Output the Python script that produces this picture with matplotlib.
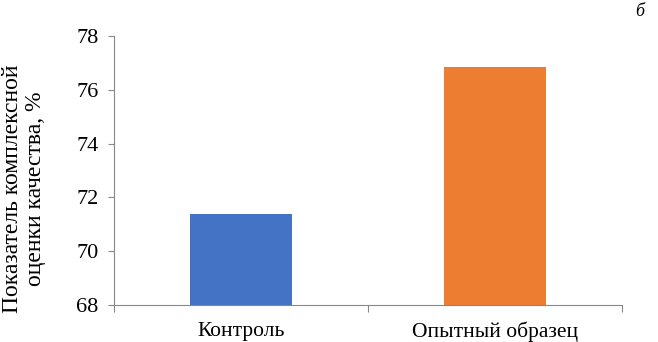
import matplotlib
matplotlib.use("Agg")
import matplotlib.pyplot as plt

categories = ["Контроль", "Опытный образец"]
values = [71.37, 76.83]
colors = ["#4472C4", "#ED7D31"]
yticks = [68, 70, 72, 74, 76, 78]

plt.rcParams['font.family'] = ['Liberation Serif', 'DejaVu Serif']

fig = plt.figure(figsize=(6.58, 3.42), dpi=100)
ax = fig.add_axes([0.1733, 0.108, 0.772, 0.787])

x = list(range(len(categories)))
ax.bar(x, [v - 68 for v in values], bottom=68, width=0.4, color=colors)

ax.set_xlim(-0.5, 1.5)
ax.set_ylim(68, 78)
ax.set_yticks(yticks)
ax.set_xticks(x)
ax.set_xticklabels(categories, fontsize=15.5)
ax.set_xticks([-0.5, 0.5, 1.5], minor=True)
ax.tick_params(axis='x', which='major', length=0, pad=12)
ax.tick_params(axis='x', which='minor', length=5, color='#888888', width=0.8)
ax.tick_params(axis='y', length=4.3, color='#888888', width=0.8, labelsize=16, pad=7)

for side in ['top', 'right']:
    ax.spines[side].set_visible(False)
for side in ['left', 'bottom']:
    ax.spines[side].set_color('#888888')
    ax.spines[side].set_linewidth(0.8)

fig.text(24 / 658, 0.447, "Показатель комплексной\nоценки качества, %", fontsize=17,
         rotation=90, ha='center', va='center', multialignment='center', linespacing=1.1)

fig.text(0.972, 0.99, "б", fontsize=13, style='italic', ha='center', va='top')

fig.savefig("out.png", dpi=100)
